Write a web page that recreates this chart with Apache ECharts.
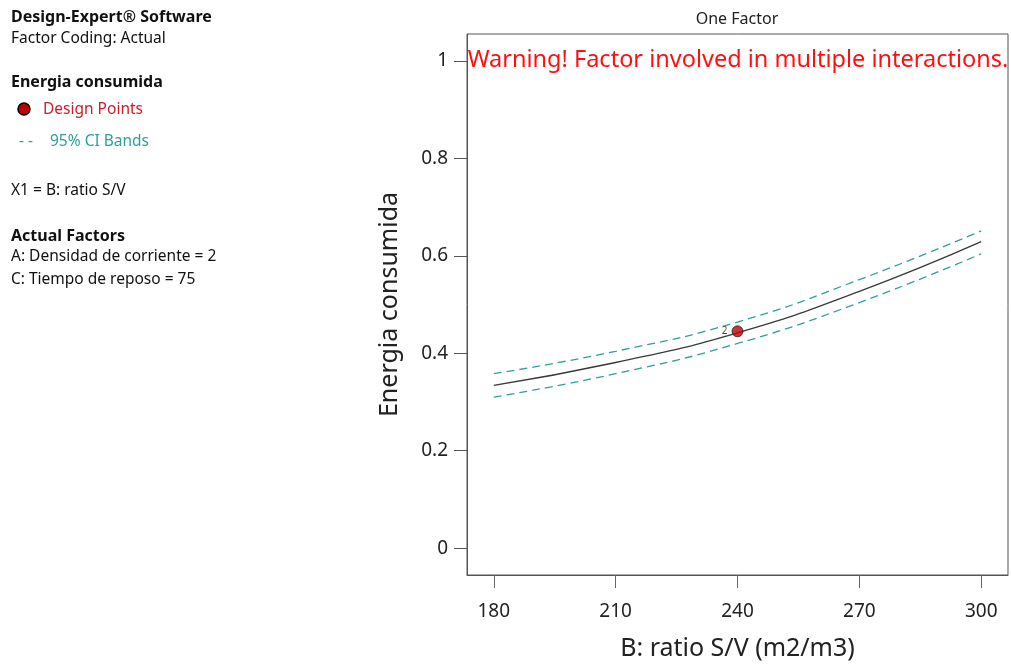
<!DOCTYPE html>
<html>
<head>
<meta charset="utf-8">
<script src="https://cdn.jsdelivr.net/npm/echarts@6/dist/echarts.min.js"></script>
<style>
  html, body { margin: 0; padding: 0; background: #fff; }
  #chart { width: 1011px; height: 666px; }
</style>
</head>
<body>
<div id="chart"></div>
<script>
   // values
   var ratioSV = [180, 210, 240, 270, 300];
   var energiaFit = [0.334, 0.381, 0.442, 0.527, 0.629];
   var ciUpper = [0.358, 0.404, 0.464, 0.551, 0.651];
   var ciLower = [0.310, 0.358, 0.420, 0.504, 0.604];
   var designPoints = [[240, 0.445]];
   var designLabels = ['2'];
   var xTicks = [180, 210, 240, 270, 300];
   var yTicks = [0, 0.2, 0.4, 0.6, 0.8, 1];

   var FONT = '"Noto Sans", "Open Sans", sans-serif';
   var TEAL = '#2e9f9c';

   var oneFactor = echarts.init(document.getElementById('chart'), null, { renderer: 'canvas' });

   function pairs(xs, ys) {
       return xs.map(function (x, i) { return [x, ys[i]]; });
   }

   var leftTexts = [
       { t: 'Design-Expert® Software', y: 17, bold: true },
       { t: 'Factor Coding: Actual', y: 39 },
       { t: 'Energia consumida', y: 82, bold: true },
       { t: 'X1 = B: ratio S/V', y: 191 },
       { t: 'Actual Factors', y: 236, bold: true },
       { t: 'A: Densidad de corriente = 2', y: 257 },
       { t: 'C: Tiempo de reposo = 75', y: 280 }
   ];

   var graphics = leftTexts.map(function (d) {
       return {
           type: 'text', x: 11, y: d.y,
           style: { text: d.t, fill: '#111', font: (d.bold ? 'bold 16px ' : '15.5px ') + FONT, verticalAlign: 'middle' }
       };
   });
   graphics.push(
       { type: 'circle', shape: { cx: 24, cy: 109, r: 6 }, style: { fill: '#c00000', stroke: '#000', lineWidth: 1.5 } },
       { type: 'text', x: 43, y: 110, style: { text: 'Design Points', fill: '#c8202a', font: '15.5px ' + FONT, verticalAlign: 'middle' } },
       { type: 'text', x: 19, y: 142, style: { text: '- -', fill: TEAL, font: '15.5px ' + FONT, verticalAlign: 'middle' } },
       { type: 'text', x: 50, y: 142, style: { text: '95% CI Bands', fill: TEAL, font: '15.5px ' + FONT, verticalAlign: 'middle' } },
       { type: 'text', x: 737, y: 19, style: { text: 'One Factor', fill: '#222', font: '16px ' + FONT, align: 'center', verticalAlign: 'middle' } },
       { type: 'text', x: 738, y: 60, z: 10, style: { text: 'Warning! Factor involved in multiple interactions.', fill: '#ff1010', font: '23.5px ' + FONT, align: 'center', verticalAlign: 'middle' } }
   );

   var xRange = { min: 173.4, max: 306.6 };

   var option_oneFactor = {
       animation: false,
       backgroundColor: '#fff',
       grid: {
           left: 467, top: 34, right: 3, bottom: 89,
           show: true, borderColor: '#555', borderWidth: 1
       },
       xAxis: [{
           type: 'value',
           min: xRange.min, max: xRange.max,
           position: 'bottom',
           name: 'B: ratio S/V (m2/m3)',
           nameLocation: 'middle',
           nameGap: 61,
           nameTextStyle: { fontFamily: FONT, fontSize: 25, color: '#222' },
           axisLine: { show: true, onZero: false, lineStyle: { color: '#555', width: 1 } },
           axisTick: { show: true, inside: false, length: 13, customValues: xTicks, lineStyle: { color: '#666', width: 1 } },
           axisLabel: { customValues: xTicks, margin: 27, fontFamily: FONT, fontSize: 19, color: '#222' },
           splitLine: { show: false }
       }, {
           // tick marks only, under the bottom edge
           type: 'value',
           min: xRange.min, max: xRange.max,
           position: 'bottom',
           axisLine: { show: false, onZero: false },
           axisTick: { show: true, inside: false, length: 13, customValues: xTicks, lineStyle: { color: '#666', width: 1 } },
           axisLabel: { show: false },
           splitLine: { show: false }
       }],
       yAxis: {
           type: 'value',
           min: -0.055, max: 1.055,
           name: 'Energia consumida',
           nameLocation: 'middle',
           nameGap: 65,
           nameTextStyle: { fontFamily: FONT, fontSize: 25, color: '#222' },
           axisLine: { show: true, onZero: false, lineStyle: { color: '#555', width: 1 } },
           axisTick: { show: true, length: 13, customValues: yTicks, lineStyle: { color: '#555' } },
           axisLabel: {
               customValues: yTicks, margin: 19, fontFamily: FONT, fontSize: 19, color: '#222',
               formatter: function (v) { return String(+v.toFixed(2)); }
           },
           splitLine: { show: false }
       },
       series: [{
           name: 'fit',
           type: 'line',
           smooth: true,
           symbol: 'none',
           data: pairs(ratioSV, energiaFit),
           lineStyle: { color: '#3a3a3a', width: 1.3 }
       }, {
           name: 'upper',
           type: 'line',
           smooth: true,
           symbol: 'none',
           data: pairs(ratioSV, ciUpper),
           lineStyle: { color: TEAL, width: 1.3, type: [8, 5] }
       }, {
           name: 'lower',
           type: 'line',
           smooth: true,
           symbol: 'none',
           data: pairs(ratioSV, ciLower),
           lineStyle: { color: TEAL, width: 1.3, type: [8, 5] }
       }, {
           name: 'Design Points',
           type: 'scatter',
           symbolSize: 11,
           data: designPoints,
           itemStyle: { color: '#c00000', borderColor: '#222', borderWidth: 1 },
           label: {
               show: true, position: 'left', distance: 4,
               formatter: function (p) { return designLabels[p.dataIndex]; },
               fontFamily: FONT, fontSize: 10, color: '#222'
           },
           z: 5
       }],
       graphic: graphics
   };
   oneFactor.setOption(option_oneFactor);
   window.onresize = function () {
       oneFactor.resize();
   };
</script>
</body>
</html>
